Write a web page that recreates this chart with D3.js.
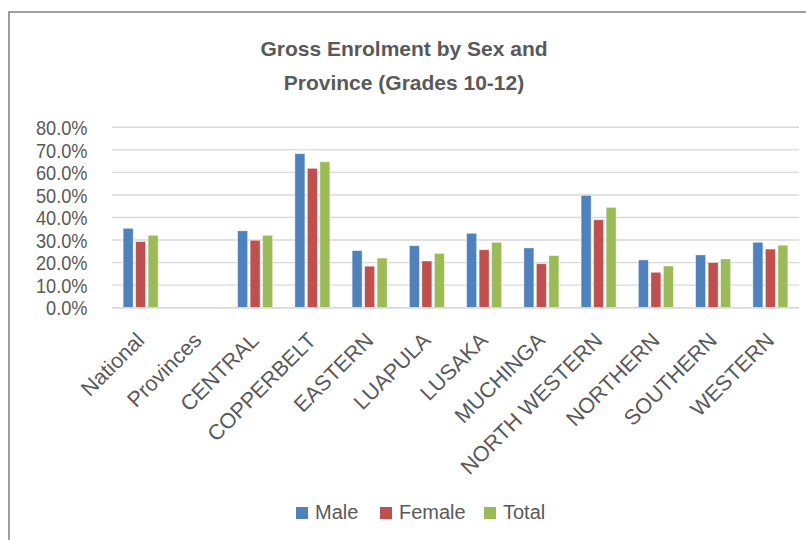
<!DOCTYPE html>
<html>
<head>
<meta charset="utf-8">
<script src="https://cdn.jsdelivr.net/npm/d3@7"></script>
<style>
  html, body { margin: 0; padding: 0; background: #fff; }
  svg { display: block; }
  text { font-family: "Liberation Sans", Arial, sans-serif; fill: #595959; }
</style>
</head>
<body>
<svg id="chart" width="806" height="540"></svg>
<script>
const categories = ["National", "Provinces", "CENTRAL", "COPPERBELT", "EASTERN", "LUAPULA",
  "LUSAKA", "MUCHINGA", "NORTH WESTERN", "NORTHERN", "SOUTHERN", "WESTERN"];
const seriesNames = ["Male", "Female", "Total"];
const male   = [35.2, null, 34.1, 68.3, 25.3, 27.5, 33.0, 26.5, 49.8, 21.2, 23.4, 29.0];
const female = [29.3, null, 29.9, 61.8, 18.4, 20.7, 25.7, 19.5, 39.0, 15.7, 20.0, 26.0];
const total  = [32.1, null, 32.1, 64.7, 22.0, 24.1, 29.0, 23.1, 44.5, 18.5, 21.6, 27.7];
const yTicks = [0, 10, 20, 30, 40, 50, 60, 70, 80];
const titleLines = ["Gross Enrolment by Sex and", "Province (Grades 10-12)"];
const colors = ["#4F81BD", "#C0504D", "#9BBB59"];

const seriesValues = [male, female, total];
const svg = d3.select("#chart");

// chart border (extends past right/bottom edges as in reference)
svg.append("rect").attr("x", 9).attr("y", 12).attr("width", 820).attr("height", 560)
  .attr("fill", "#fff").attr("stroke", "#878787").attr("stroke-width", 1.6);

const plot = { left: 112, right: 799, top: 127.3, bottom: 307.7 };

const x0 = d3.scaleBand().domain(categories).range([plot.left, plot.right])
  .paddingInner(0.389).paddingOuter(0.1945);
const x1 = d3.scaleBand().domain(seriesNames).range([0, x0.bandwidth()]).paddingInner(0.2);
const y = d3.scaleLinear().domain([0, 80]).range([plot.bottom, plot.top]);

// gridlines
svg.append("g").selectAll("line").data(yTicks).join("line")
  .attr("x1", plot.left).attr("x2", plot.right)
  .attr("y1", d => y(d)).attr("y2", d => y(d))
  .attr("stroke", "#D9D9D9").attr("stroke-width", 1.4);

// y axis labels
const yAxis = d3.axisLeft(y).tickValues(yTicks).tickSize(0).tickPadding(0)
  .tickFormat(d => d.toFixed(1) + "%");
const gy = svg.append("g").attr("transform", `translate(87.5,0)`).call(yAxis);
gy.select(".domain").remove();
gy.selectAll("text").attr("font-size", 20).attr("fill", "#595959")
  .attr("dy", "0.36em").attr("transform", "scale(0.91,1)")
  .style("font-family", '"Liberation Sans", Arial, sans-serif');

// bars
const groups = svg.append("g").selectAll("g").data(categories).join("g")
  .attr("transform", d => `translate(${x0(d)},0)`);
groups.selectAll("rect")
  .data((c, i) => seriesNames.map((s, k) => ({ s, k, v: seriesValues[k][i] })).filter(d => d.v != null))
  .join("rect")
  .attr("x", d => x1(d.s))
  .attr("width", x1.bandwidth())
  .attr("y", d => y(d.v))
  .attr("height", d => y(0) - y(d.v))
  .attr("fill", d => colors[d.k])
  .attr("stroke", "#ffffff").attr("stroke-opacity", 0.5).attr("stroke-width", 0.8);

// x axis baseline
svg.append("line").attr("x1", plot.left).attr("x2", plot.right)
  .attr("y1", y(0)).attr("y2", y(0)).attr("stroke", "#D9D9D9").attr("stroke-width", 1.4);

// x labels
const xAxis = d3.axisBottom(x0).tickSize(0).tickPadding(0);
const gx = svg.append("g").attr("transform", `translate(0,${plot.bottom})`).call(xAxis);
gx.select(".domain").remove();
gx.selectAll("text")
  .attr("font-size", 21.5).attr("fill", "#595959")
  .style("font-family", '"Liberation Sans", Arial, sans-serif')
  .attr("text-anchor", "end").attr("dy", 0).attr("y", 0)
  .attr("transform", "translate(5,34) rotate(-45)");

// title
svg.append("g").selectAll("text").data(titleLines).join("text")
  .attr("x", 404).attr("y", (d, i) => 56 + i * 34)
  .attr("text-anchor", "middle").attr("font-size", 21).attr("font-weight", "bold")
  .attr("fill", "#595959").text(d => d);

// legend
const legendX = [296, 380, 484];
const lg = svg.append("g").selectAll("g").data(seriesNames).join("g")
  .attr("transform", (d, i) => `translate(${legendX[i]},0)`);
lg.append("rect").attr("x", 0).attr("y", 507).attr("width", 12).attr("height", 12)
  .attr("fill", (d, i) => colors[i]);
lg.append("text").attr("x", 19).attr("y", 519).attr("font-size", 20).text(d => d);
</script>
</body>
</html>
